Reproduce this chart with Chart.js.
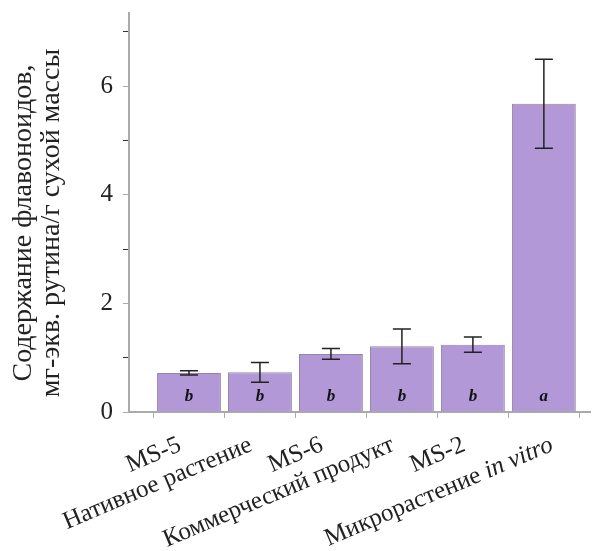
<!DOCTYPE html>
<html>
<head>
<meta charset="utf-8">
<script src="https://cdn.jsdelivr.net/npm/chart.js@4"></script>
<style>
  html, body { margin: 0; padding: 0; background: #fff; }
  #wrap { width: 595px; height: 551px; }
</style>
</head>
<body>
<div id="wrap"><canvas id="chart" width="595" height="551"></canvas></div>
<script>
// data
const categories = ['MS-5', 'Нативное растение', 'MS-6', 'Коммерческий продукт', 'MS-2', 'Микрорастение in vitro'];
const italicPart = 'in vitro';
const flavonoids = [0.72, 0.73, 1.07, 1.21, 1.24, 5.68];
const errors = [0.04, 0.18, 0.10, 0.32, 0.14, 0.82];
const letters = ['b', 'b', 'b', 'b', 'b', 'a'];
const yTickLabels = ['0', '2', '4', '6'];

const serif = '"Liberation Serif", "Times New Roman", serif';

// error bars, significance letters and the slanted category labels
const extras = {
    id: 'extras',
    afterDatasetsDraw(chart) {
        const ctx = chart.ctx;
        const xs = chart.scales.x;
        const ys = chart.scales.y;
        ctx.save();
        flavonoids.forEach((v, i) => {
            const x = xs.getPixelForValue(i);
            const top = ys.getPixelForValue(v + errors[i]);
            const bot = ys.getPixelForValue(v - errors[i]);
            ctx.strokeStyle = '#222';
            ctx.lineWidth = 1.5;
            ctx.beginPath();
            ctx.moveTo(x, top); ctx.lineTo(x, bot);
            ctx.moveTo(x - 9, top); ctx.lineTo(x + 9, top);
            ctx.moveTo(x - 9, bot); ctx.lineTo(x + 9, bot);
            ctx.stroke();

            ctx.fillStyle = '#111';
            ctx.font = 'italic bold 17px ' + serif;
            ctx.textAlign = 'center';
            ctx.textBaseline = 'middle';
            ctx.fillText(letters[i], x, ys.getPixelForValue(0.28));
        });

        // category labels, right end near the tick, rotated like the original
        const plain = '25px ' + serif;
        const ital = 'italic 25px ' + serif;
        categories.forEach((c, i) => {
            let parts = [[c, plain]];
            let nudge = -9;
            const k = c.indexOf(italicPart);
            if (k >= 0) {
                parts = [[c.slice(0, k), plain], [italicPart, ital]];
                nudge = 8; // this one sits a bit right of its tick in the original
            }
            ctx.save();
            ctx.translate(xs.getPixelForValue(i) + nudge, xs.top + 32);
            ctx.rotate(-23 * Math.PI / 180);
            ctx.fillStyle = '#222';
            ctx.textAlign = 'left';
            ctx.textBaseline = 'middle';
            let w = 0;
            parts.forEach(p => { ctx.font = p[1]; w += ctx.measureText(p[0]).width; });
            let px = -w;
            parts.forEach(p => {
                ctx.font = p[1];
                ctx.fillText(p[0], px, 0);
                px += ctx.measureText(p[0]).width;
            });
            ctx.restore();
        });
        ctx.restore();
    }
};

const ctx = document.getElementById('chart').getContext('2d');
const chart = new Chart(ctx, {
    type: 'bar',
    data: {
        datasets: [{
            data: flavonoids.map((v, i) => ({ x: i, y: v })),
            backgroundColor: '#b398d8',
            borderColor: '#9485a6',
            borderWidth: 1,
            barPercentage: 0.9,
            categoryPercentage: 1
        }]
    },
    options: {
        responsive: false,
        animation: false,
        layout: { padding: { top: 13, right: 5, left: 0, bottom: 0 } },
        plugins: { legend: { display: false }, tooltip: { enabled: false } },
        scales: {
            x: {
                type: 'linear',
                offset: false,
                min: -0.845,
                max: 5.65,
                afterBuildTicks: axis => {
                    axis.ticks = categories.map((c, i) => ({ value: i }));
                },
                afterFit: axis => { axis.height = 139; },
                border: { color: '#aaa', width: 2 },
                grid: { drawOnChartArea: false, tickLength: 6, color: '#aaa' },
                ticks: { display: false }
            },
            y: {
                min: 0,
                max: 7.35,
                afterBuildTicks: axis => {
                    axis.ticks = [0, 1, 2, 3, 4, 5, 6, 7].map(v => ({ value: v }));
                },
                afterFit: axis => {
                    axis.width = 129;
                    axis.paddingTop = 0;
                    axis.paddingBottom = 0;
                },
                border: { color: '#aaa', width: 2 },
                grid: {
                    drawOnChartArea: false,
                    tickLength: 6,
                    color: c => (c.tick && c.tick.value % 2 === 0) ? '#aaa' : '#333'
                },
                ticks: {
                    padding: 10,
                    color: '#222',
                    font: { family: serif, size: 25 },
                    callback: v => (v % 2 === 0) ? yTickLabels[v / 2] : ''
                },
                title: {
                    display: true,
                    // trailing spaces push the centred title down a little, as in the original
                    text: ['Содержание флавоноидов,   ', 'мг-экв. рутина/г сухой массы   '],
                    color: '#222',
                    font: { family: serif, size: 28, lineHeight: 1.0 },
                    padding: { top: 10, bottom: 0 }
                }
            }
        }
    },
    plugins: [extras]
});
</script>
</body>
</html>
